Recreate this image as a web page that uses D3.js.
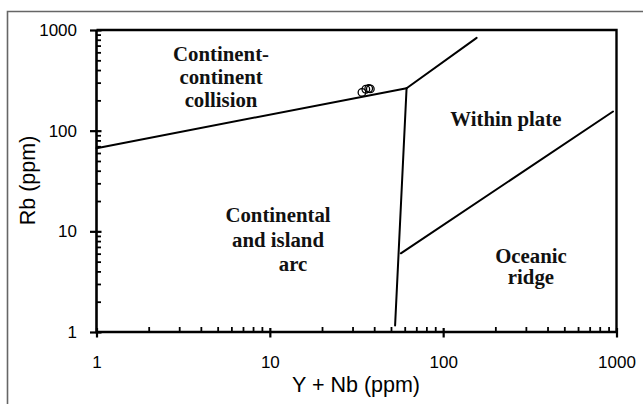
<!DOCTYPE html>
<html><head><meta charset="utf-8">
<script src="https://cdn.jsdelivr.net/npm/d3@7"></script>
<style>
html,body{margin:0;padding:0;background:#fff;}
svg{display:block;}
</style></head>
<body>
<svg id="chart" width="643" height="404"></svg>
<script>
// ---- data ----
const xTickValues = [1, 10, 100, 1000];
const yTickValues = [1, 10, 100, 1000];
const xTickLabels = ["1", "10", "100", "1000"];
const yTickLabels = ["1", "10", "100", "1000"];
const xTitle = "Y + Nb (ppm)";
const yTitle = "Rb (ppm)";
// field boundaries (x = Y+Nb, y = Rb)
const boundarySynCol = [[1, 67], [61.5, 264]];
const boundaryWpgUp = [[61.5, 264], [156, 835]];
const boundaryVag = [[61.5, 264], [52.8, 1.16]];
const boundaryOrg = [[57, 6.05], [955, 155]];
// samples
const sampleX = [34, 35.8, 37.2, 38];
const sampleY = [240, 258, 262, 260];
// field labels
const fieldNames = [
  ["Continent-", "continent", "collision"],
  ["Within plate"],
  ["Continental", "and island", "arc"],
  ["Oceanic", "ridge"]
];
const fieldAnchors = [[5.23, 492], [230, 110], [11.15, 12.3], [321, 4.9]];

// ---- drawing ----
const svg = d3.select("#chart");
const x = d3.scaleLog().domain([1, 1000]).range([96.5, 616.5]);
const y = d3.scaleLog().domain([1, 1000]).range([332, 30]);

// outer frame
svg.append("path").attr("d", "M7.5,404 V11.5 H643")
  .attr("fill", "none").attr("stroke", "#666").attr("stroke-width", 1.6);

// plot border (top & right)
svg.append("path")
  .attr("d", `M${x(1)},${y(1000)} H${x(1000)} V${y(1)}`)
  .attr("fill", "none").attr("stroke", "#000").attr("stroke-width", 2.4);

// minor ticks
const minors = [];
for (let d = 1; d < 1000; d *= 10) for (let k = 2; k <= 9; k++) minors.push(d * k);

const xAxisG = svg.append("g").attr("transform", `translate(0,${y(1)})`);
xAxisG.call(d3.axisBottom(x).tickValues(minors).tickSize(-5).tickFormat(""))
  .call(g => g.select(".domain").remove())
  .call(g => g.selectAll("line").attr("stroke", "#000").attr("stroke-width", 1.8));
const yAxisG = svg.append("g").attr("transform", `translate(${x(1)},0)`);
yAxisG.call(d3.axisLeft(y).tickValues(minors).tickSize(-4.5).tickFormat(""))
  .call(g => g.select(".domain").remove())
  .call(g => g.selectAll("line").attr("stroke", "#000").attr("stroke-width", 1.8));

// major ticks crossing the axes
const xMajor = svg.append("g").attr("transform", `translate(0,${y(1)})`);
xMajor.call(d3.axisBottom(x).tickValues(xTickValues).tickSize(5.5)
    .tickFormat((d, i) => xTickLabels[i]).tickPadding(18))
  .call(g => g.select(".domain").remove())
  .call(g => g.selectAll("line").attr("y1", -4).attr("stroke", "#000").attr("stroke-width", 2.2))
  .call(g => g.selectAll("text").attr("font-family", "Liberation Sans, Arial, sans-serif")
    .attr("font-size", 17).attr("fill", "#000"));
const yMajor = svg.append("g").attr("transform", `translate(${x(1)},0)`);
yMajor.call(d3.axisLeft(y).tickValues(yTickValues).tickSize(6.5)
    .tickFormat((d, i) => yTickLabels[i]).tickPadding(13))
  .call(g => g.select(".domain").remove())
  .call(g => g.selectAll("line").attr("x1", 5).attr("stroke", "#000").attr("stroke-width", 2.2))
  .call(g => g.selectAll("text").attr("font-family", "Liberation Sans, Arial, sans-serif")
    .attr("font-size", 17).attr("fill", "#000"));

// axis lines
svg.append("path").attr("d", `M${x(1)},${y(1000)} V${y(1)} H${x(1000)}`)
  .attr("fill", "none").attr("stroke", "#000").attr("stroke-width", 2.6);

// boundaries
const line = d3.line().x(d => x(d[0])).y(d => y(d[1]));
[boundarySynCol, boundaryWpgUp, boundaryVag, boundaryOrg].forEach(b => {
  svg.append("path").attr("d", line(b)).attr("fill", "none")
    .attr("stroke", "#000").attr("stroke-width", 2).attr("stroke-linecap", "round");
});

// samples
svg.append("g").selectAll("circle").data(sampleX).join("circle")
  .attr("cx", (d) => x(d)).attr("cy", (d, i) => y(sampleY[i])).attr("r", 3.8)
  .attr("fill", "none").attr("stroke", "#000").attr("stroke-width", 1.3);

// field labels
const lineGaps = [22.8, 0, 24.5, 21.5];
fieldNames.forEach((lines, i) => {
  const t = svg.append("text")
    .attr("font-family", "Liberation Serif, Times New Roman, serif")
    .attr("font-weight", "bold").attr("font-size", 20.8).attr("fill", "#111")
    .attr("text-anchor", "middle");
  lines.forEach((s, j) => {
    t.append("tspan").attr("x", x(fieldAnchors[i][0]) + (i === 2 && j === 2 ? 15 : 0))
      .attr("y", y(fieldAnchors[i][1]) + j * lineGaps[i]).text(s);
  });
});

// axis titles
svg.append("text").attr("x", 356).attr("y", 392).attr("text-anchor", "middle")
  .attr("font-family", "Liberation Sans, Arial, sans-serif").attr("font-size", 21.5)
  .attr("fill", "#000").text(xTitle);
svg.append("text").attr("transform", "translate(35,180.5) rotate(-90)")
  .attr("text-anchor", "middle")
  .attr("font-family", "Liberation Sans, Arial, sans-serif").attr("font-size", 21.5)
  .attr("fill", "#000").text(yTitle);
</script>
</body></html>
